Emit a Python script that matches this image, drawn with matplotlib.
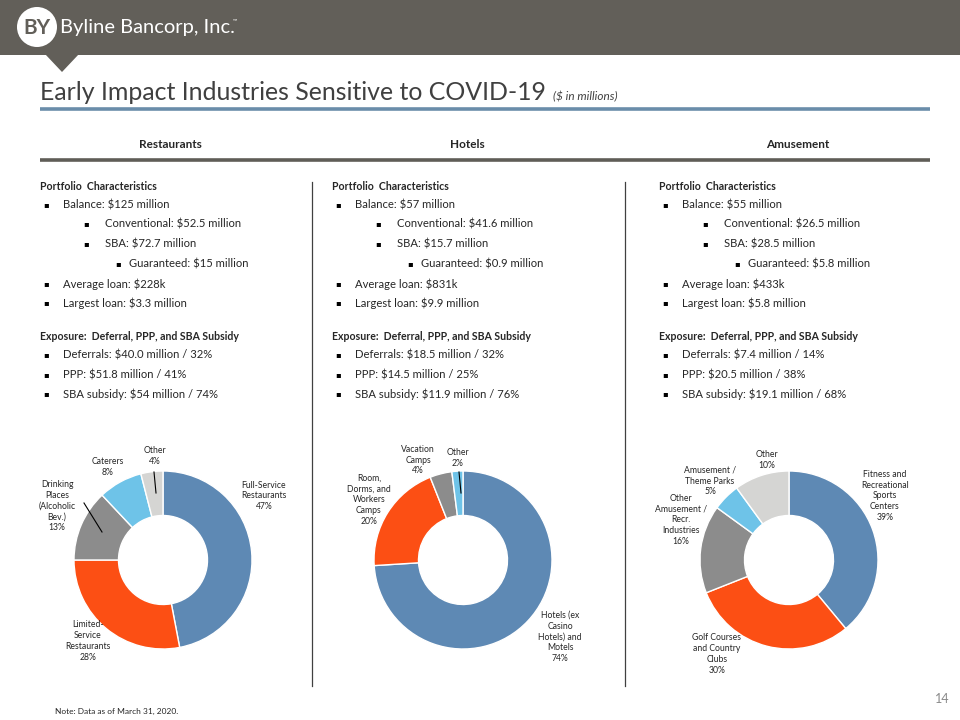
import matplotlib
matplotlib.use("Agg")
import matplotlib.pyplot as plt
from matplotlib.patches import Rectangle, Circle, Polygon

plt.rcParams['font.family'] = ['Lato', 'DejaVu Sans']

# ---------------- data ----------------
section_titles = ["Restaurants", "Hotels", "Amusement"]

rest_labels = ["Full-Service\nRestaurants\n47%", "Limited-\nService\nRestaurants\n28%",
               "Drinking\nPlaces\n(Alcoholic\nBev.)\n13%", "Caterers\n8%", "Other\n4%"]
rest_values = [47, 28, 13, 8, 4]

hotel_labels = ["Hotels (ex\nCasino\nHotels) and\nMotels\n74%", "Room,\nDorms, and\nWorkers\nCamps\n20%",
                "Vacation\nCamps\n4%", "Other\n2%"]
hotel_values = [74, 20, 4, 2]

amuse_labels = ["Fitness and\nRecreational\nSports\nCenters\n39%", "Golf Courses\nand Country\nClubs\n30%",
                "Other\nAmusement /\nRecr.\nIndustries\n16%", "Amusement /\nTheme Parks\n5%", "Other\n10%"]
amuse_values = [39, 30, 16, 5, 10]

rest_text = [
    "Balance: $125 million", "Conventional: $52.5 million", "SBA: $72.7 million",
    "Guaranteed: $15 million", "Average loan: $228k", "Largest loan: $3.3 million",
    "Deferrals: $40.0 million / 32%", "PPP: $51.8 million / 41%", "SBA subsidy: $54 million / 74%"]
hotel_text = [
    "Balance: $57 million", "Conventional: $41.6 million", "SBA: $15.7 million",
    "Guaranteed: $0.9 million", "Average loan: $831k", "Largest loan: $9.9 million",
    "Deferrals: $18.5 million / 32%", "PPP: $14.5 million / 25%", "SBA subsidy: $11.9 million / 76%"]
amuse_text = [
    "Balance: $55 million", "Conventional: $26.5 million", "SBA: $28.5 million",
    "Guaranteed: $5.8 million", "Average loan: $433k", "Largest loan: $5.8 million",
    "Deferrals: $7.4 million / 14%", "PPP: $20.5 million / 38%", "SBA subsidy: $19.1 million / 68%"]

# ---------------- layout / style ----------------
W, H = 960, 720
BLUE, ORANGE, GRAY, LBLUE, LGRAY = "#5e89b4", "#fc4f14", "#8c8c8c", "#6ec3e8", "#d5d5d3"
rest_colors = [BLUE, ORANGE, GRAY, LBLUE, LGRAY]
hotel_colors = [BLUE, ORANGE, GRAY, LBLUE]
amuse_colors = [BLUE, ORANGE, GRAY, LBLUE, LGRAY]

fig = plt.figure(figsize=(9.6, 7.2), dpi=100)
bg = fig.add_axes([0, 0, 1, 1])
bg.set_xlim(0, W)
bg.set_ylim(H, 0)
bg.axis('off')

# header band
band = "#625f59"
bg.add_patch(Rectangle((0, 0), W, 55, color=band, lw=0))
bg.add_patch(Polygon([(45, 54), (79, 54), (62, 72)], closed=True, color=band, lw=0))
bg.add_patch(Circle((37, 27), 20, color="white", lw=0))
bg.text(37, 28, "BY", ha='center', va='center', fontsize=15, color=band,
        fontweight='bold')
bg.text(60, 28, "Byline Bancorp, Inc.", ha='left', va='center', fontsize=14.5,
        color='white')
bg.text(233, 21, "\u2122", ha='left', va='center', fontsize=4, color='white')

# title
bg.text(40, 100, "Early Impact Industries Sensitive to COVID-19", ha='left',
        va='baseline', fontsize=17.9, color="#404040")
bg.text(553, 100, "($ in millions)", ha='left', va='baseline', fontsize=8.5,
        color="#404040", fontstyle='italic')
bg.plot([40, 930], [109, 109], color="#6a8daa", lw=2.6, solid_capstyle='butt')

# section headers
for x, s in zip([170, 467, 798], section_titles):
    bg.text(x, 145, s, ha='center', va='center', fontsize=8.5, fontweight='bold',
            color="#262626")
bg.plot([40, 930], [160, 160], color="#5f5d57", lw=2.6, solid_capstyle='butt')

# vertical separators
for x in [312, 625]:
    bg.plot([x, x], [182, 686], color="#404040", lw=0.9)

# column texts
line_y = [205, 224, 244, 264, 284, 303, 355, 375, 394]
levels = [1, 2, 2, 3, 1, 1, 1, 1, 1]
bullet_dx = {1: 3, 2: 43, 3: 75}
text_dx = {1: 23, 2: 65, 3: 89}
TXT = "#262626"
FS = 8.1
FSB = 7.6
for x0, lines in zip([40, 332, 659], [rest_text, hotel_text, amuse_text]):
    bg.text(x0, 186, "Portfolio  Characteristics", ha='left', va='center', fontsize=FSB,
            fontweight='bold', color=TXT)
    bg.text(x0, 336, "Exposure:  Deferral, PPP, and SBA Subsidy", ha='left', va='center',
            fontsize=FSB, fontweight='bold', color=TXT)
    for y, lev, s in zip(line_y, levels, lines):
        bg.text(x0 + bullet_dx[lev], y, "\u25aa", ha='left', va='center', fontsize=6,
                color="black", family='DejaVu Sans')
        bg.text(x0 + text_dx[lev], y, s, ha='left', va='center', fontsize=FS, color=TXT)

# footer
bg.text(55, 711, "Note: Data as of March 31, 2020.", ha='left', va='center', fontsize=6,
        color=TXT)
bg.text(950, 699, "14", ha='right', va='center', fontsize=9, color="#8a8a8a")

# ---------------- donuts ----------------
R = 89
LFS = 6.2


def donut(cx, cy, values, colors, labels, label_pos, leaders):
    ax = fig.add_axes([(cx - R) / W, 1 - (cy + R) / H, 2 * R / W, 2 * R / H])
    ax.pie(values, colors=colors, startangle=90, counterclock=False, radius=1,
           wedgeprops=dict(width=0.5, edgecolor='white', linewidth=1.0))
    ax.set_xlim(-1.0, 1.0)
    ax.set_ylim(-1.0, 1.0)
    ax.axis('off')
    for lab, (px, py) in zip(labels, label_pos):
        ax.text((px - cx) / R, -(py - cy) / R, lab, ha='center', va='center',
                fontsize=LFS, color="#262626", linespacing=1.25, clip_on=False)
    for (x1, y1), (x2, y2) in leaders:
        ax.plot([(x1 - cx) / R, (x2 - cx) / R], [-(y1 - cy) / R, -(y2 - cy) / R],
                color='black', lw=0.8, clip_on=False)


donut(163, 560, rest_values, rest_colors, rest_labels,
      [(264, 496), (88, 641), (57, 506), (108, 467), (155, 456)],
      [((84, 503), (102, 532)), ((154, 472), (156, 493))])
donut(463, 560, hotel_values, hotel_colors, hotel_labels,
      [(560, 637), (369, 500), (418, 460), (458, 458)],
      [((459, 472), (461, 493))])
donut(789, 560, amuse_values, amuse_colors, amuse_labels,
      [(885, 496), (717, 654), (681, 520), (710, 481), (767, 460)],
      [])

fig.savefig("out.png", dpi=100)
